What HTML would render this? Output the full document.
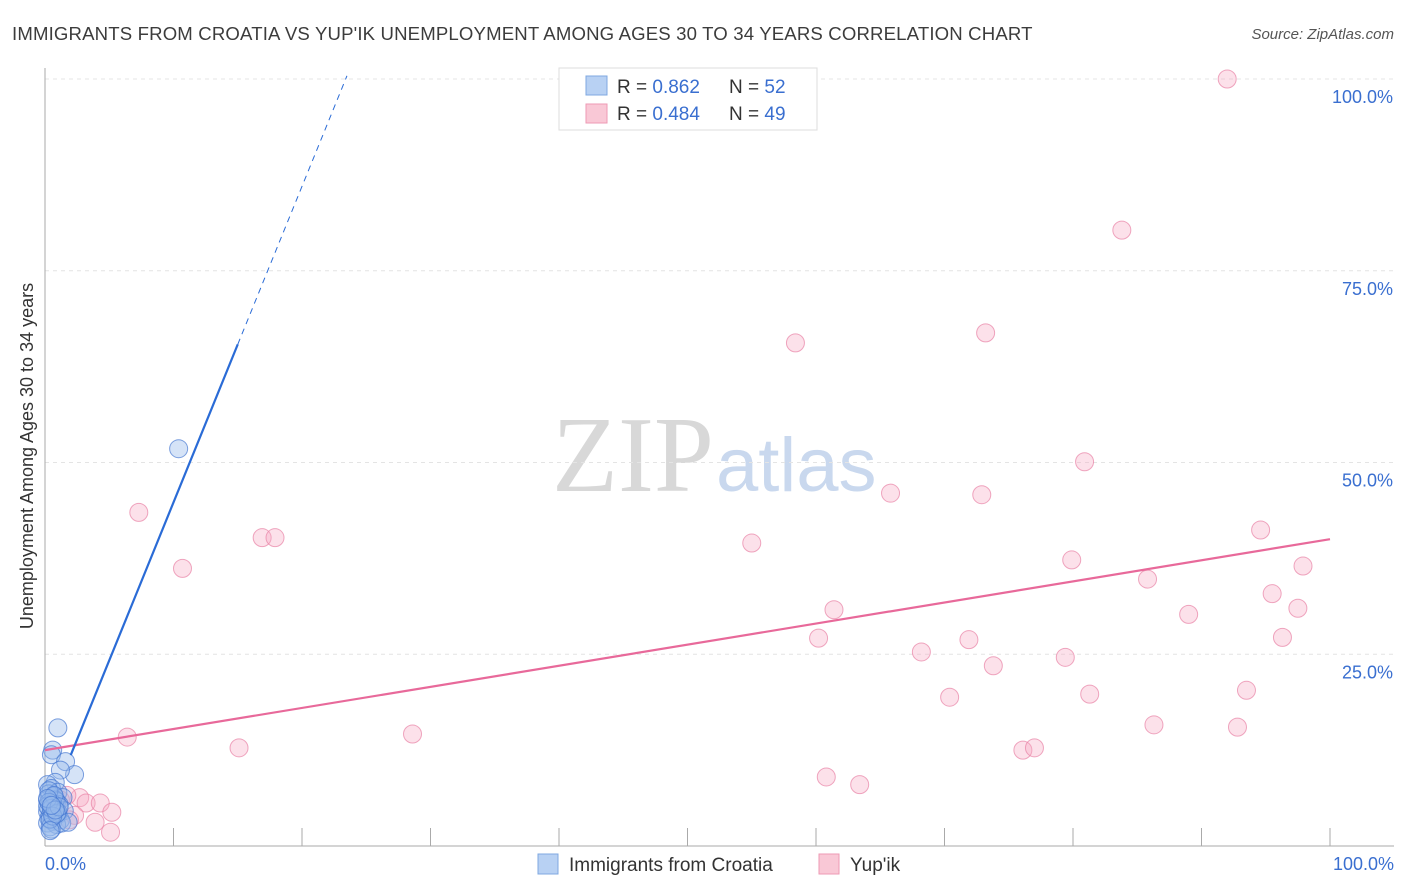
<!DOCTYPE html>
<html><head><meta charset="utf-8">
<style>
body{margin:0;background:#fff;font-family:"Liberation Sans",sans-serif;}
#wrap{position:relative;width:1406px;height:892px;overflow:hidden;}
</style></head>
<body>
<div id="wrap">
<svg id="svg" width="1406" height="892" xmlns="http://www.w3.org/2000/svg">
<text x="12" y="40" font-size="18.6" letter-spacing="0.15" fill="#3c3c3c">IMMIGRANTS FROM CROATIA VS YUP'IK UNEMPLOYMENT AMONG AGES 30 TO 34 YEARS CORRELATION CHART</text>
<text x="1394" y="39" font-size="15" fill="#555" font-style="italic" text-anchor="end">Source: ZipAtlas.com</text>
<text x="0" y="0" transform="translate(33,456) rotate(-90)" font-size="18" fill="#333" text-anchor="middle">Unemployment Among Ages 30 to 34 years</text>
<text x="714" y="491" font-size="108" fill="#d8d8d8" text-anchor="end" font-family="Liberation Serif,serif">ZIP</text>
<text x="716" y="491" font-size="76" fill="#c9d8ee">atlas</text>
<g id="grid"></g>
<g id="pts"></g>
<g id="lines"></g>
<g>
<rect x="559" y="68" width="258" height="62" fill="#fff" stroke="#ddd"/>
<rect x="586" y="76" width="21" height="19" fill="#b8d1f3" stroke="#7fa8e0"/>
<rect x="586" y="104" width="21" height="19" fill="#f9c8d6" stroke="#ee9ab4"/>
<text x="617" y="93" font-size="19" fill="#333">R = <tspan fill="#3a6fd0">0.862</tspan></text>
<text x="729" y="93" font-size="19" fill="#333">N = <tspan fill="#3a6fd0">52</tspan></text>
<text x="617" y="120" font-size="19" fill="#333">R = <tspan fill="#3a6fd0">0.484</tspan></text>
<text x="729" y="120" font-size="19" fill="#333">N = <tspan fill="#3a6fd0">49</tspan></text>
</g>
<g>
<rect x="538" y="854" width="20" height="20" fill="#b8d1f3" stroke="#7fa8e0"/>
<text x="569" y="871" font-size="19" fill="#333">Immigrants from Croatia</text>
<rect x="819" y="854" width="20" height="20" fill="#f9c8d6" stroke="#ee9ab4"/>
<text x="850" y="871" font-size="19" fill="#333">Yup'ik</text>
</g>
<text x="45" y="870" font-size="18" fill="#3a6fd0">0.0%</text>
<text x="1394" y="870" font-size="18" fill="#3a6fd0" text-anchor="end">100.0%</text>
</svg>
</div>
<script>
const yTicks=[25,50,75,100];
const yTickLabels=["25.0%","50.0%","75.0%","100.0%"];
const xTicks=[0,10,20,30,40,50,60,70,80,90,100];
const croatiaX=[10.4,1.0,0.6,0.5,1.6,2.3,1.2,0.8,0.2,0.5,1.0,0.3,0.7,1.4,0.2,0.9,0.4,1.1,0.6,0.3,0.8,1.5,0.2,0.5,1.0,0.4,0.7,0.3,1.2,0.6,0.2,0.9,0.4,0.5,1.3,0.8,0.3,0.6,1.0,0.2,0.7,0.4,1.8,0.5,0.3,0.9,0.6,0.2,1.1,0.4,0.8,0.5];
const croatiaY=[51.8,15.4,12.5,11.9,11.0,9.3,9.9,8.3,8.0,7.5,7.0,6.8,6.5,6.3,6.0,5.8,5.6,5.4,5.2,5.0,4.8,4.6,4.5,4.3,4.1,4.0,3.8,3.6,3.4,3.2,3.0,2.8,2.5,2.2,3.0,6.0,7.2,5.5,4.4,5.2,6.6,3.5,3.1,4.9,5.7,4.2,3.9,6.2,5.1,2.0,4.7,5.3];
const yupikX=[92,83.8,58.4,73.2,80.9,65.8,72.9,7.3,16.9,17.9,55,94.6,10.7,79.9,85.8,97.9,95.5,97.5,89,61.4,60.2,71.9,96.3,68.2,79.4,73.8,70.4,81.3,93.5,6.4,15.1,28.6,86.3,92.8,76.1,77,60.8,63.4,2.7,3.2,4.3,5.2,3.9,5.1,1.7,0.9,2.3,1.2,1.9];
const yupikY=[100,80.3,65.6,66.9,50.1,46.0,45.8,43.5,40.2,40.2,39.5,41.2,36.2,37.3,34.8,36.5,32.9,31.0,30.2,30.8,27.1,26.9,27.2,25.3,24.6,23.5,19.4,19.8,20.3,14.2,12.8,14.6,15.8,15.5,12.5,12.8,9.0,8.0,6.3,5.6,5.6,4.4,3.1,1.8,6.6,5.3,4.0,6.0,3.4];
const croatiaLine=[3.6,4.12];
const yupikLine=[12.5,40];
const X0=45,X1=1330,Y0=846,Y1=79;
const sx=v=>X0+v*(X1-X0)/100, sy=v=>Y0-v*(Y0-Y1)/100;
const NS="http://www.w3.org/2000/svg";
function mk(tag,attrs,parent){const e=document.createElementNS(NS,tag);for(const k in attrs)e.setAttribute(k,attrs[k]);parent.appendChild(e);return e;}
const grid=document.getElementById('grid');
yTicks.forEach((t,i)=>{
 const l=mk('line',{x1:X0,x2:1394,y1:sy(t),y2:sy(t),stroke:'#e4e4e4','stroke-dasharray':'4,4'},grid);
 
 
 const tx=mk('text',{x:1393,y:sy(t)+24,'font-size':18,fill:'#3a6fd0','text-anchor':'end'},grid);
 tx.textContent=yTickLabels[i];
 
 
});
const ax=mk('line',{x1:X0,x2:X0,y1:68,y2:Y0,stroke:'#aaa'},grid);


const bx=mk('line',{x1:X0,x2:1394,y1:Y0,y2:Y0,stroke:'#aaa'},grid);


xTicks.forEach(t=>{
 const l=mk('line',{x1:sx(t),x2:sx(t),y1:828,y2:Y0,stroke:'#aaa'},grid);
 
 
});
const pts=document.getElementById('pts');
yupikX.forEach((x,i)=>{
 const c=mk('circle',{cx:sx(x),cy:sy(yupikY[i]),r:9,fill:'rgba(246,170,195,0.35)',stroke:'rgba(232,130,165,0.7)','stroke-width':1},pts);
 
 
});
croatiaX.forEach((x,i)=>{
 const c=mk('circle',{cx:sx(x),cy:sy(croatiaY[i]),r:9,fill:'rgba(150,185,235,0.4)',stroke:'rgba(70,120,210,0.7)','stroke-width':1},pts);
 
 
});
const lines=document.getElementById('lines');
const ly=mk('line',{x1:sx(0),y1:sy(yupikLine[0]),x2:sx(100),y2:sy(yupikLine[1]),stroke:'#e8699a','stroke-width':2.2},lines);


const cx0=Math.max(0,(0-croatiaLine[0])/croatiaLine[1])+2.0;
const cf=x=>croatiaLine[0]+croatiaLine[1]*x;
const lc=mk('line',{x1:sx(cx0),y1:sy(cf(cx0)),x2:sx(15),y2:sy(cf(15)),stroke:'#2a6bd6','stroke-width':2.2},lines);


const xEnd=(100-croatiaLine[0])/croatiaLine[1]+0.1;
const ld=mk('line',{x1:sx(15),y1:sy(cf(15)),x2:sx(xEnd),y2:sy(cf(xEnd)),stroke:'#2a6bd6','stroke-width':1,'stroke-dasharray':'6,5'},lines);


</script>
</body></html>
